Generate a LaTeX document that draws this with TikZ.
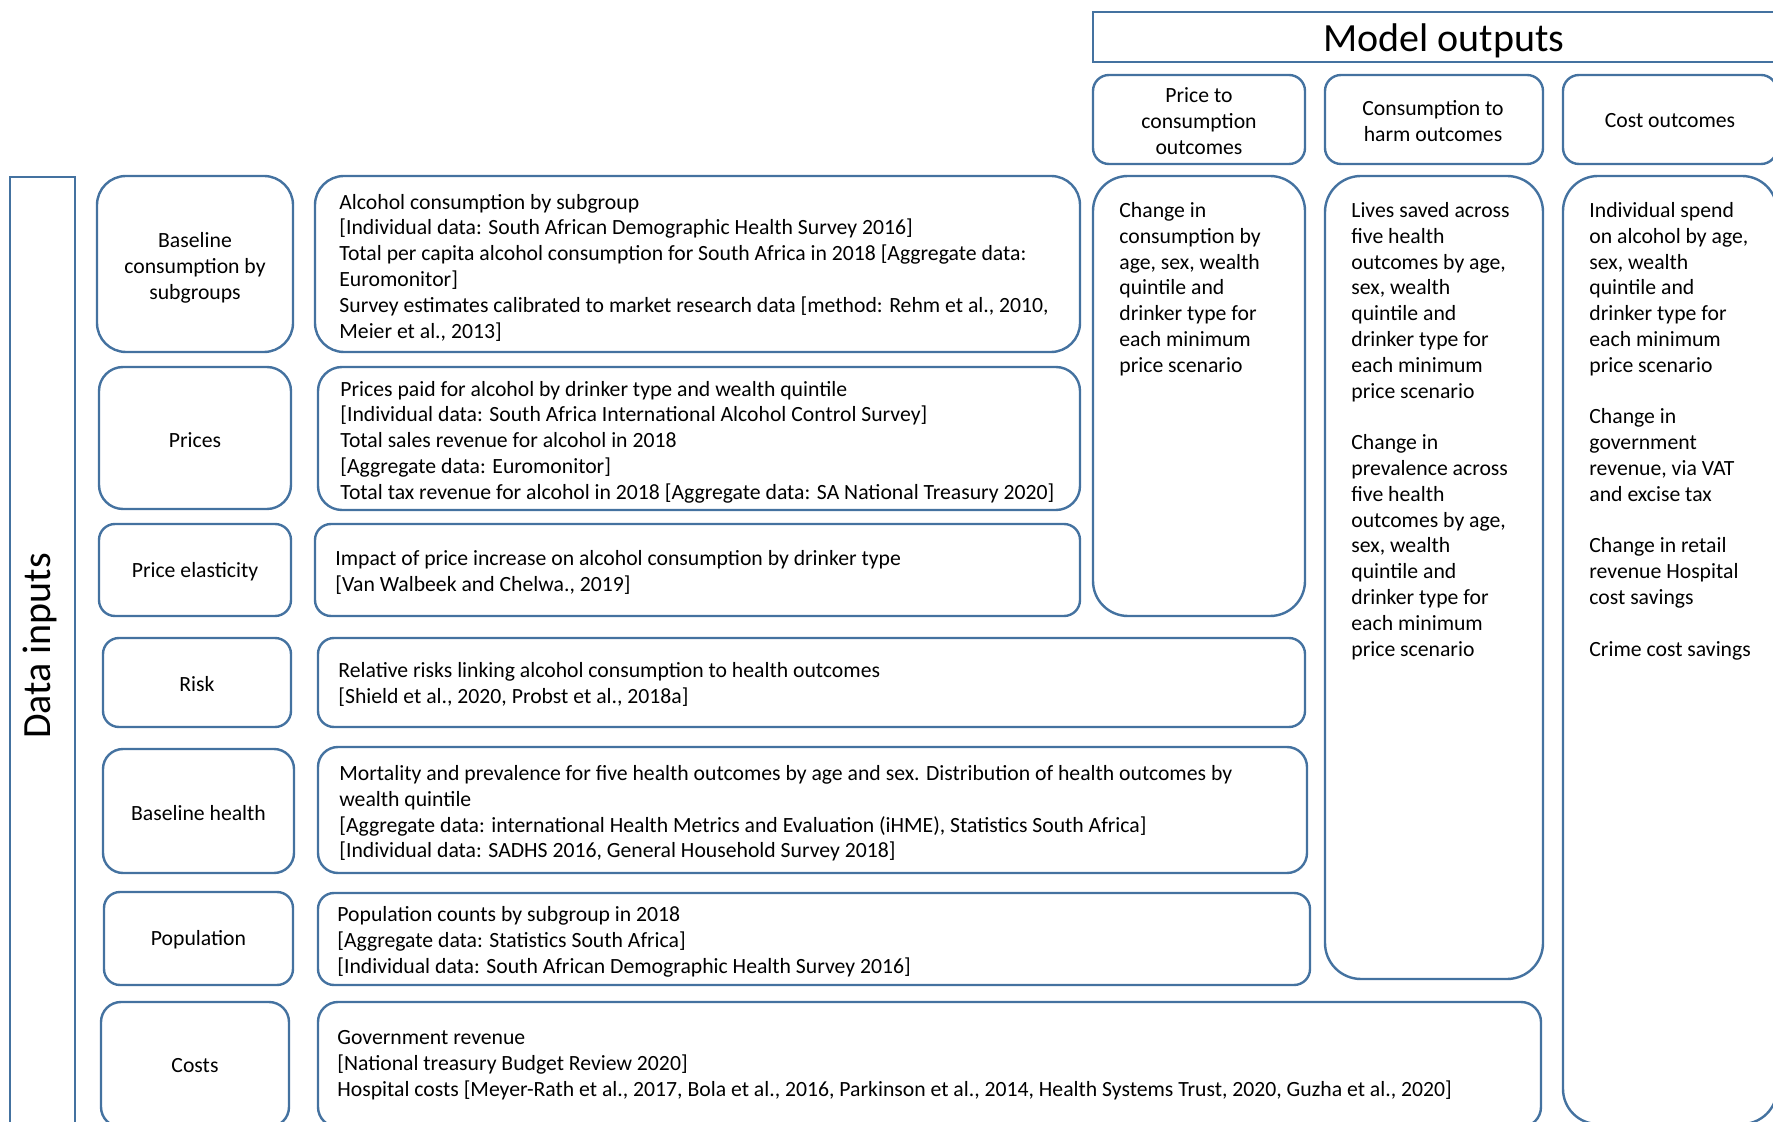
\documentclass[tikz,border=0pt]{standalone}
\usepackage{fontspec}
\setmainfont{Carlito}
\definecolor{bl}{RGB}{68,114,160}
\newcommand\bodyf{\fontsize{10.85}{12.9}\selectfont}
\begin{document}
\begin{tikzpicture}[x=0.5pt,y=-0.5pt,
  frame/.style={draw=bl,line width=1.2pt,inner sep=0pt},
  ltxt/.style={align=center,font=\bodyf,inner sep=0pt},
  txt/.style={align=left,font=\bodyf,inner sep=0pt,anchor=west},
  otxt/.style={align=left,font=\bodyf,inner sep=0pt,anchor=north west},
  big/.style={font=\fontsize{20}{24}\selectfont,inner sep=0pt}]
\useasboundingbox (0,0) rectangle (1773,1122);
\clip (0,0) rectangle (1773,1122);
% group frames
\node[frame,minimum width=351pt,minimum height=25pt] (MO) at (1444,37) {};
\node[big] (MOt) at (1444,40.5) {Model outputs};
\node[frame,minimum width=32.5pt,minimum height=486.5pt] (DI) at (42.5,663.5) {};
\node[big,rotate=90] (DIt) at (40,646) {Data inputs};
% left label boxes
\node[frame,rounded corners=14.5pt,minimum width=98pt,minimum height=88pt] (L1) at (195,264) {};
\node[frame,rounded corners=12pt,minimum width=96pt,minimum height=71pt] (L2) at (195,438) {};
\node[frame,rounded corners=8pt,minimum width=96pt,minimum height=46pt] (L3) at (195,570) {};
\node[frame,rounded corners=8pt,minimum width=94pt,minimum height=44.5pt] (L4) at (197,682.5) {};
\node[frame,rounded corners=10pt,minimum width=95.5pt,minimum height=62pt] (L5) at (198.5,811) {};
\node[frame,rounded corners=8pt,minimum width=94.5pt,minimum height=46.5pt] (L6) at (198.5,938.5) {};
\node[frame,rounded corners=10pt,minimum width=94pt,minimum height=62.5pt] (L7) at (195,1064.5) {};
\node[ltxt] (L1t) at (195,268) {Baseline\\consumption by\\subgroups};
\node[ltxt] (L2t) at (195,440) {Prices};
\node[ltxt] (L3t) at (195,572) {Price elasticity};
\node[ltxt] (L4t) at (197,684) {Risk};
\node[ltxt] (L5t) at (198.5,813) {Baseline health};
\node[ltxt] (L6t) at (198.5,940) {Population};
\node[ltxt] (L7t) at (195,1066) {Costs};
% data boxes
\node[frame,rounded corners=14.5pt,minimum width=382.5pt,minimum height=88pt] (R1) at (697.5,264) {};
\node[frame,rounded corners=12pt,minimum width=381pt,minimum height=71.5pt] (R2) at (699,438.5) {};
\node[frame,rounded corners=8pt,minimum width=382.5pt,minimum height=46pt] (R3) at (697.5,570) {};
\node[frame,rounded corners=8pt,minimum width=493.5pt,minimum height=44.5pt] (R4) at (811.5,682.5) {};
\node[frame,rounded corners=10pt,minimum width=494.5pt,minimum height=63pt] (R5) at (812.5,810) {};
\node[frame,rounded corners=8pt,minimum width=496pt,minimum height=46pt] (R6) at (814,939) {};
\node[frame,rounded corners=10pt,minimum width=611.5pt,minimum height=62.5pt] (R7) at (929.5,1064.5) {};
\node[txt] (T1) at (339,267.5) {Alcohol consumption by subgroup\\\relax
[Individual data: South African Demographic Health Survey 2016]\\
Total per capita alcohol consumption for South Africa in 2018 [Aggregate data:\\
Euromonitor]\\
Survey estimates calibrated to market research data [method: Rehm et al., 2010,\\
Meier et al., 2013]};
\node[txt] (T2) at (340,442) {Prices paid for alcohol by drinker type and wealth quintile\\\relax
[Individual data: South Africa International Alcohol Control Survey]\\
Total sales revenue for alcohol in 2018\\\relax
[Aggregate data: Euromonitor]\\
Total tax revenue for alcohol in 2018 [Aggregate data: SA National Treasury 2020]};
\node[txt] (T3) at (335,572.5) {Impact of price increase on alcohol consumption by drinker type\\\relax
[Van Walbeek and Chelwa., 2019]};
\node[txt] (T4) at (338,684.5) {Relative risks linking alcohol consumption to health outcomes\\\relax
[Shield et al., 2020, Probst et al., 2018a]};
\node[txt] (T5) at (339,813.5) {Mortality and prevalence for five health outcomes by age and sex. Distribution of health outcomes by\\
wealth quintile\\\relax
[Aggregate data: international Health Metrics and Evaluation (iHME), Statistics South Africa]\\\relax
[Individual data: SADHS 2016, General Household Survey 2018]};
\node[txt] (T6) at (337,942) {Population counts by subgroup in 2018\\\relax
[Aggregate data: Statistics South Africa]\\\relax
[Individual data: South African Demographic Health Survey 2016]};
\node[txt] (T7) at (337,1065) {Government revenue\\\relax
[National treasury Budget Review 2020]\\
Hospital costs [Meyer-Rath et al., 2017, Bola et al., 2016, Parkinson et al., 2014, Health Systems Trust, 2020, Guzha et al., 2020]};
% output headers
\node[frame,rounded corners=8pt,minimum width=106pt,minimum height=44.5pt] (H1) at (1199,119.5) {};
\node[frame,rounded corners=8pt,minimum width=109pt,minimum height=44.5pt] (H2) at (1434,119.5) {};
\node[frame,rounded corners=8pt,minimum width=107pt,minimum height=44.5pt] (H3) at (1670,119.5) {};
\node[ltxt] (H1t) at (1199,121) {Price to\\consumption\\outcomes};
\node[ltxt] (H2t) at (1433,121) {Consumption to\\harm outcomes};
\node[ltxt] (H3t) at (1670,121) {Cost outcomes};
% output bodies
\node[frame,rounded corners=17.5pt,minimum width=106pt,minimum height=220pt] (B1) at (1199,396) {};
\node[frame,rounded corners=18pt,minimum width=109pt,minimum height=401.5pt] (B2) at (1434,577.5) {};
\node[frame,rounded corners=17.5pt,minimum width=107pt,minimum height=474pt] (B3) at (1670,650) {};
\node[otxt] (O1) at (1119,202) {Change in\\consumption by\\age, sex, wealth\\quintile and\\drinker type for\\each minimum\\price scenario};
\node[otxt] (O2) at (1351,202) {Lives saved across\\five health\\outcomes by age,\\sex, wealth\\quintile and\\drinker type for\\each minimum\\price scenario\\[12.9pt]
Change in\\prevalence across\\five health\\outcomes by age,\\sex, wealth\\quintile and\\drinker type for\\each minimum\\price scenario};
\node[otxt] (O3) at (1589,202) {Individual spend\\on alcohol by age,\\sex, wealth\\quintile and\\drinker type for\\each minimum\\price scenario\\[12.9pt]
Change in\\government\\revenue, via VAT\\and excise tax\\[12.9pt]
Change in retail\\revenue Hospital\\cost savings\\[12.9pt]
Crime cost savings};
\end{tikzpicture}
\end{document}
